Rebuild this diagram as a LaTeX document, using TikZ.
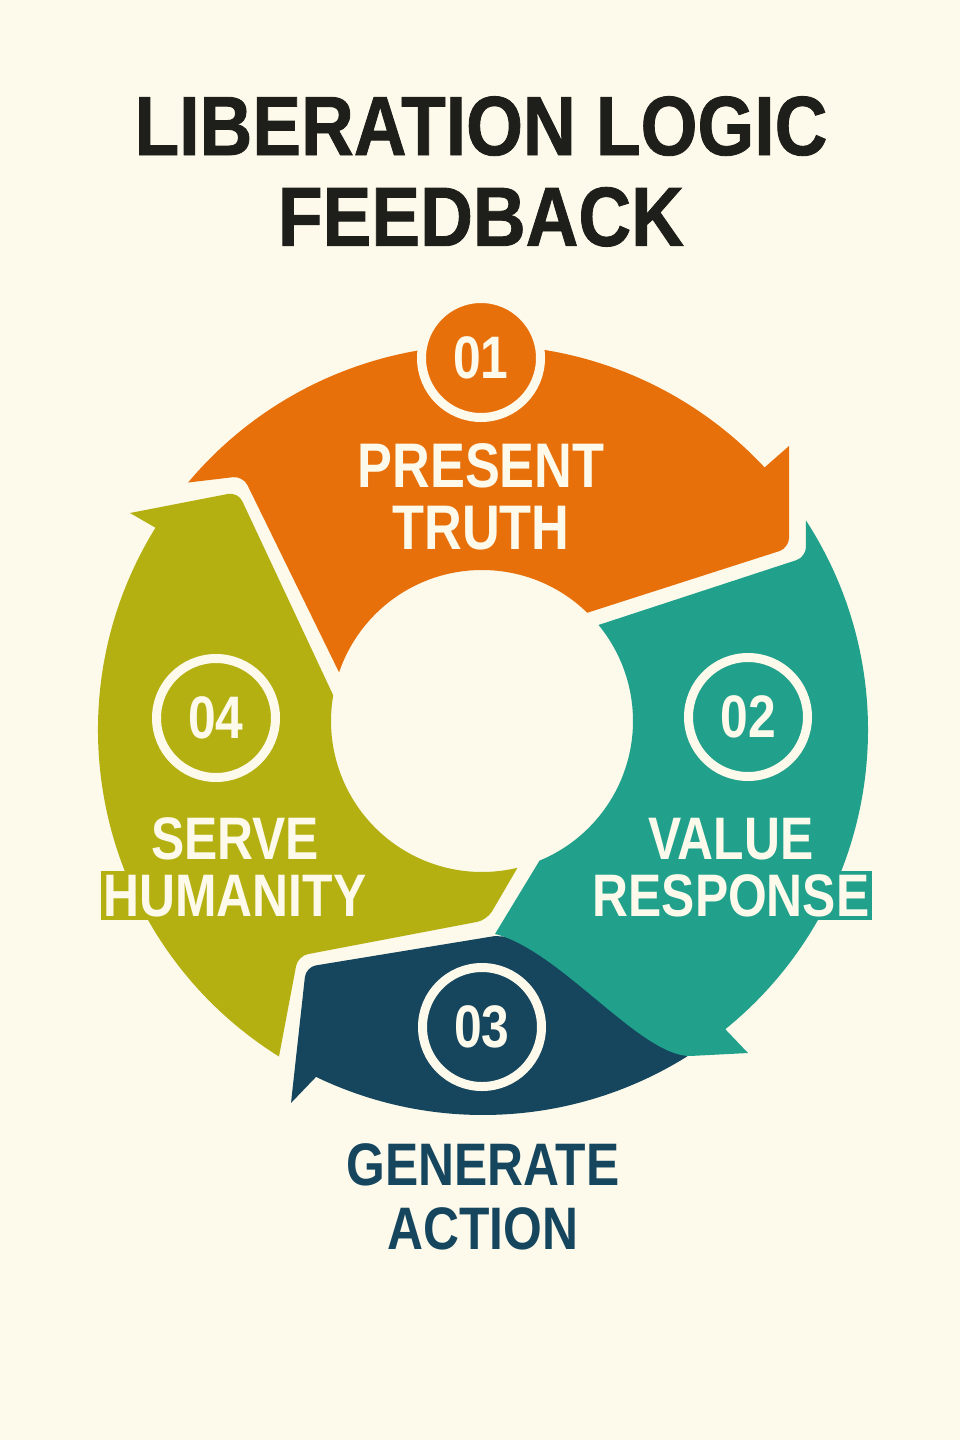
\documentclass[tikz,border=0pt]{standalone}
\usepackage{fontspec}
\usepackage{tikz}
\usetikzlibrary{positioning}
\newfontfamily\labelfont[FakeStretch=0.83]{Liberation Sans}
\newfontfamily\headfont[FakeStretch=0.87,FakeBold=1]{Liberation Sans}
\definecolor{cream}{RGB}{253,250,235}
\definecolor{orangeseg}{RGB}{232,112,10}
\definecolor{tealseg}{RGB}{33,161,139}
\definecolor{navyseg}{RGB}{21,70,94}
\definecolor{oliveseg}{RGB}{181,176,18}
\definecolor{titleink}{RGB}{30,30,26}

\begin{document}
\begin{tikzpicture}[
  x=0.5pt, y=0.5pt,
  badge/.style={circle,draw=cream,line width=4.5pt,minimum size=59.5pt,inner sep=0pt,
                text=cream,font=\labelfont\bfseries\fontsize{30}{30}\selectfont},
  steplbl/.style={inner sep=1.5pt,text height=21.5pt,text depth=0pt,text=cream,
                  font=\labelfont\bfseries\fontsize{30}{30}\selectfont},
  biglbl/.style={steplbl,text height=22.5pt,
                 font=\labelfont\bfseries\fontsize{31.5}{31.5}\selectfont},
  headline/.style={inner sep=1.5pt,text height=30pt,text depth=0pt,text=titleink,
                   font=\headfont\bfseries\fontsize{42}{42}\selectfont}
]
\useasboundingbox[fill=cream] (0,0) rectangle (960,-1440);
\coordinate (ring) at (483,-730);
\coordinate (hole) at (482,-721);

\fill[navyseg] ([shift={(-58:385)}]ring) arc[start angle=-58,end angle=-115.7,radius=385]
  -- (291,-1103) [rounded corners=5pt] -- (306,-967) [sharp corners] -- (495,-936)
  -- (560,-940) -- (700,-1040) -- cycle;
\fill[tealseg] ([shift={(33:385)}]ring) arc[start angle=33,end angle=-51,radius=385]
  -- (748,-1053) -- (690,-1056) .. controls (640,-1056) and (560,-950) .. (495,-934)
  -- ([shift={(-67.6:151)}]hole) arc[start angle=-67.6,end angle=39.5,radius=151]
  [rounded corners=5pt] -- (806,-557) [sharp corners] -- cycle;
\fill[orangeseg] ([shift={(161.2:151)}]hole) [rounded corners=5pt] -- (243,-476) [sharp corners]
  -- ([shift={(140:385)}]ring) arc[start angle=140,end angle=43,radius=385]
  -- (789,-446) [rounded corners=5pt] -- (789,-548) [sharp corners] -- ([shift={(45.8:151)}]hole)
  arc[start angle=45.8,end angle=161.2,radius=151] -- cycle;
\fill[oliveseg] (130,-513) [rounded corners=5pt] -- (238,-492) [sharp corners]
  -- ([shift={(170.2:151)}]hole) arc[start angle=170.2,end angle=283.6,radius=151]
  [rounded corners=5pt] -- (487,-920) -- (298,-956) [sharp corners] -- ([shift={(238:385)}]ring)
  arc[start angle=238,end angle=148.3,radius=385] -- cycle;

\node[headline] (title) at (481,-125) {LIBERATION LOGIC};
\node[headline,below=12pt of title] (subtitle) {FEEDBACK};

\node[badge,fill=orangeseg] (one) at (481,-358) {01};
\node[badge,fill=tealseg] (two) at (748,-717) {02};
\node[badge,fill=navyseg] (three) at (482,-1027) {03};
\node[badge,fill=oliveseg] (four) at (216,-718) {04};

\node[biglbl] (present) at (481,-464.5) {PRESENT};
\node[biglbl,below=5.5pt of present] (truth) {TRUTH};
\node[steplbl] (value) at (731,-837.5) {VALUE};
\node[steplbl,fill=tealseg,below=4pt of value] (response) {RESPONSE};
\node[steplbl] (serve) at (235,-837.5) {SERVE};
\node[steplbl,fill=oliveseg,below=4pt of serve] (humanity) {HUMANITY};
\node[steplbl,text=navyseg] (generate) at (483,-1164) {GENERATE};
\node[steplbl,text=navyseg,below=7pt of generate] (action) {ACTION};
\end{tikzpicture}
\end{document}
